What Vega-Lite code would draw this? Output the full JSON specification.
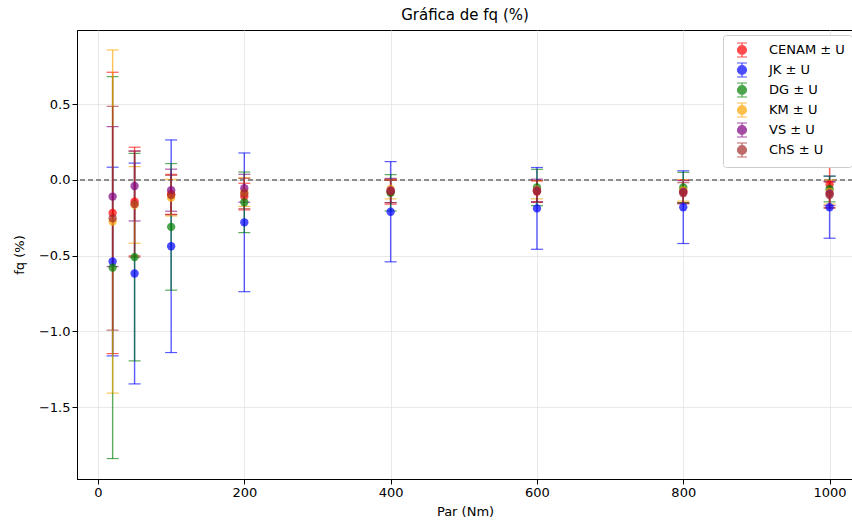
{
  "$schema": "https://vega.github.io/schema/vega-lite/v6.json",
  "width": 776,
  "height": 449,
  "autosize": {"type": "none"},
  "padding": {"left": 77, "top": 30, "right": 0, "bottom": 46},
  "background": "white",
  "title": {"text": "Gráfica de fq (%)", "font": "DejaVu Sans", "fontSize": 15, "fontWeight": "normal", "color": "black", "offset": 7},
  "config": {
    "view": {"stroke": "black", "strokeWidth": 1},
    "axis": {
      "labelFont": "DejaVu Sans", "labelFontSize": 13, "labelColor": "black",
      "titleFont": "DejaVu Sans", "titleFontSize": 13, "titleFontWeight": "normal", "titleColor": "black",
      "domainColor": "black", "tickColor": "black", "tickSize": 5, "gridColor": "#e3e3e3", "gridWidth": 0.8
    }
  },
  "data": {"values": [
    {"Par": 20, "Lab": "CENAM", "fq": -0.218, "U": 0.929},
    {"Par": 20, "Lab": "JK", "fq": -0.539, "U": 0.623},
    {"Par": 20, "Lab": "DG", "fq": -0.579, "U": 1.261},
    {"Par": 20, "Lab": "KM", "fq": -0.275, "U": 1.133},
    {"Par": 20, "Lab": "VS", "fq": -0.11, "U": 0.462},
    {"Par": 20, "Lab": "ChS", "fq": -0.253, "U": 0.739},
    {"Par": 50, "Lab": "CENAM", "fq": -0.143, "U": 0.359},
    {"Par": 50, "Lab": "JK", "fq": -0.618, "U": 0.729},
    {"Par": 50, "Lab": "DG", "fq": -0.51, "U": 0.685},
    {"Par": 50, "Lab": "KM", "fq": -0.165, "U": 0.253},
    {"Par": 50, "Lab": "VS", "fq": -0.04, "U": 0.231},
    {"Par": 50, "Lab": "ChS", "fq": -0.16, "U": 0.35},
    {"Par": 100, "Lab": "CENAM", "fq": -0.095, "U": 0.132},
    {"Par": 100, "Lab": "JK", "fq": -0.438, "U": 0.702},
    {"Par": 100, "Lab": "DG", "fq": -0.31, "U": 0.418},
    {"Par": 100, "Lab": "KM", "fq": -0.117, "U": 0.121},
    {"Par": 100, "Lab": "VS", "fq": -0.068, "U": 0.139},
    {"Par": 100, "Lab": "ChS", "fq": -0.1, "U": 0.13},
    {"Par": 200, "Lab": "CENAM", "fq": -0.11, "U": 0.088},
    {"Par": 200, "Lab": "JK", "fq": -0.28, "U": 0.458},
    {"Par": 200, "Lab": "DG", "fq": -0.148, "U": 0.2},
    {"Par": 200, "Lab": "KM", "fq": -0.08, "U": 0.095},
    {"Par": 200, "Lab": "VS", "fq": -0.055, "U": 0.092},
    {"Par": 200, "Lab": "ChS", "fq": -0.09, "U": 0.1},
    {"Par": 400, "Lab": "CENAM", "fq": -0.08, "U": 0.08},
    {"Par": 400, "Lab": "JK", "fq": -0.21, "U": 0.331},
    {"Par": 400, "Lab": "DG", "fq": -0.085, "U": 0.12},
    {"Par": 400, "Lab": "KM", "fq": -0.06, "U": 0.065},
    {"Par": 400, "Lab": "VS", "fq": -0.07, "U": 0.08},
    {"Par": 400, "Lab": "ChS", "fq": -0.075, "U": 0.075},
    {"Par": 600, "Lab": "CENAM", "fq": -0.075, "U": 0.07},
    {"Par": 600, "Lab": "JK", "fq": -0.188, "U": 0.27},
    {"Par": 600, "Lab": "DG", "fq": -0.05, "U": 0.12},
    {"Par": 600, "Lab": "KM", "fq": -0.065, "U": 0.06},
    {"Par": 600, "Lab": "VS", "fq": -0.07, "U": 0.075},
    {"Par": 600, "Lab": "ChS", "fq": -0.077, "U": 0.072},
    {"Par": 800, "Lab": "CENAM", "fq": -0.075, "U": 0.075},
    {"Par": 800, "Lab": "JK", "fq": -0.18, "U": 0.24},
    {"Par": 800, "Lab": "DG", "fq": -0.05, "U": 0.1},
    {"Par": 800, "Lab": "KM", "fq": -0.07, "U": 0.07},
    {"Par": 800, "Lab": "VS", "fq": -0.08, "U": 0.075},
    {"Par": 800, "Lab": "ChS", "fq": -0.088, "U": 0.07},
    {"Par": 1000, "Lab": "CENAM", "fq": -0.03, "U": 0.155},
    {"Par": 1000, "Lab": "JK", "fq": -0.18, "U": 0.205},
    {"Par": 1000, "Lab": "DG", "fq": -0.06, "U": 0.085},
    {"Par": 1000, "Lab": "KM", "fq": -0.08, "U": 0.08},
    {"Par": 1000, "Lab": "VS", "fq": -0.09, "U": 0.08},
    {"Par": 1000, "Lab": "ChS", "fq": -0.1, "U": 0.085}
  ]},
  "layer": [
    {
      "mark": {"type": "rule", "color": "#8c8c8c", "strokeDash": [5, 3], "strokeWidth": 1},
      "encoding": {"y": {"datum": 0, "type": "quantitative", "scale": {"domain": [-1.975, 0.99]}, "title": "fq (%)"}}
    },
    {
      "mark": {"type": "errorbar", "ticks": {"size": 12, "thickness": 1.2}, "thickness": 1.4, "opacity": 0.65},
      "encoding": {
        "x": {"field": "Par", "type": "quantitative", "title": "Par (Nm)"},
        "y": {"field": "fq", "type": "quantitative", "title": "fq (%)"},
        "yError": {"field": "U"},
        "color": {"field": "Lab", "type": "nominal",
          "scale": {"domain": ["CENAM", "JK", "DG", "KM", "VS", "ChS"], "range": ["#ff0000", "#0000ff", "#008000", "#ffa500", "#800080", "#a52a2a"]}}
      }
    },
    {
      "mark": {"type": "point", "filled": true, "shape": "circle", "size": 70, "opacity": 0.7},
      "encoding": {
        "x": {"field": "Par", "type": "quantitative", "title": "Par (Nm)",
          "scale": {"domain": [-28.7, 1032], "nice": false, "zero": false},
          "axis": {"values": [0, 200, 400, 600, 800, 1000], "format": "d", "grid": true, "titlePadding": 6}},
        "y": {"field": "fq", "type": "quantitative", "title": "fq (%)",
          "scale": {"domain": [-1.975, 0.99], "nice": false, "zero": false},
          "axis": {"values": [-1.5, -1.0, -0.5, 0.0, 0.5], "format": ".1f", "grid": true, "titlePadding": 12}},
        "color": {"field": "Lab", "type": "nominal",
          "scale": {"domain": ["CENAM", "JK", "DG", "KM", "VS", "ChS"], "range": ["#ff0000", "#0000ff", "#008000", "#ffa500", "#800080", "#a52a2a"]},
          "legend": {
            "title": null, "orient": "none", "legendX": 646, "legendY": 5,
            "labelExpr": "datum.label + ' ± U'",
            "labelFont": "DejaVu Sans", "labelFontSize": 13, "labelColor": "black",
            "labelOffset": 19, "symbolOffset": 4,
            "symbolType": "M -0.64 0 A 0.64 0.64 0 1 1 0.64 0 A 0.64 0.64 0 1 1 -0.64 0 Z M 0 -1 L 0 1 M -0.71 -1 L 0.71 -1 M -0.71 1 L 0.71 1",
            "symbolSize": 196, "symbolOpacity": 0.7, "symbolStrokeWidth": 1.2,
            "rowPadding": 0, "padding": 7,
            "strokeColor": "#cccccc", "fillColor": "white", "cornerRadius": 3,
            "encode": {"symbols": {"update": {"stroke": {"scale": "color", "field": "value"}}}}
          }
        }
      }
    }
  ]
}
